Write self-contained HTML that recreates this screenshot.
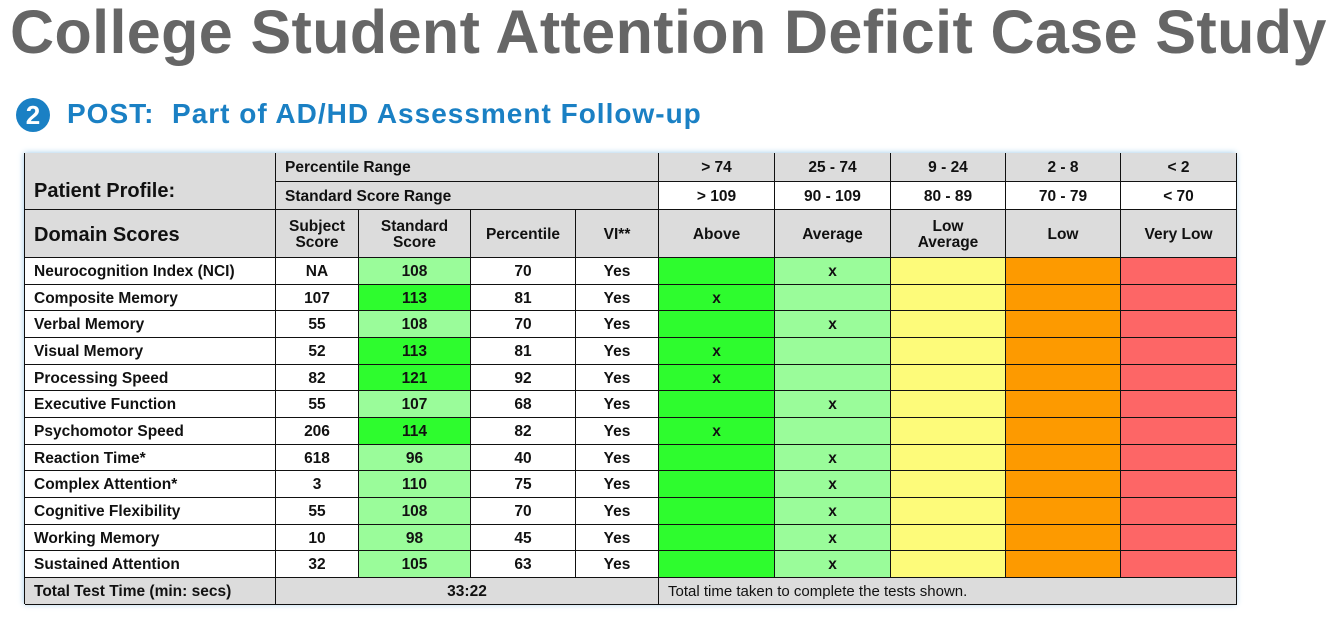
<!DOCTYPE html>
<html><head><meta charset="utf-8">
<style>
body{margin:0;width:1342px;height:623px;background:#fff;position:relative;overflow:hidden;font-family:"Liberation Sans",sans-serif}
#title{position:absolute;left:10px;top:-3px;font-size:61px;font-weight:bold;color:#666;white-space:nowrap;letter-spacing:0.4px}
#sub{position:absolute;left:67px;top:98px;font-size:28px;font-weight:bold;color:#1a80c4;white-space:nowrap;letter-spacing:1px}
#circ{position:absolute;left:16px;top:98px;width:34px;height:34px;border-radius:50%;background:#1a80c4;color:#fff;font-weight:bold;font-size:26px;text-align:center;line-height:34px}
#tbl{position:absolute;left:24px;top:153px;width:1212px;height:451px;box-shadow:0 0 6px #9cc8e8;background:#fff;box-sizing:border-box;border-left:1px solid #111;border-top:1px solid #111}
.c{position:absolute;box-sizing:border-box;border-right:1px solid #111;border-bottom:1px solid #111;display:flex;align-items:center;justify-content:center;text-align:center;font-weight:bold;font-size:15.5px;color:#111;line-height:16px;padding-top:2px}
.l{justify-content:flex-start;padding-left:9px}
</style></head><body>
<div id="title">College Student Attention Deficit Case Study</div>
<div id="circ">2</div>
<div id="sub">POST:&nbsp; Part of AD/HD Assessment Follow-up</div>
<div id="tbl"></div>
<script>
const domains=["Neurocognition  Index (NCI)","Composite Memory","Verbal Memory","Visual Memory","Processing Speed","Executive Function","Psychomotor Speed","Reaction Time*","Complex Attention*","Cognitive Flexibility","Working Memory","Sustained Attention"];
const subjectScores=["NA","107","55","52","82","55","206","618","3","55","10","32"];
const standardScores=[108,113,108,113,121,107,114,96,110,108,98,105];
const percentiles=[70,81,70,81,92,68,82,40,75,70,45,63];
const vi=["Yes","Yes","Yes","Yes","Yes","Yes","Yes","Yes","Yes","Yes","Yes","Yes"];
const category=[1,0,1,0,0,1,0,1,1,1,1,1];
const bandNames=["Above","Average","Low<br>Average","Low","Very Low"];
const pctRanges=["> 74","25 - 74","9 - 24","2 - 8","< 2"];
const ssRanges=["> 109","90 - 109","80 - 89","70 - 79","< 70"];
const totalTime="33:22";

const T=document.getElementById('tbl');
const X=[-1,250,333,445,550,633,749,865,980,1095,1211];
const bandCol=["#2efc2e","#9afc9a","#fdfb7a","#fd9a00","#fd6666"];
function cell(x0,x1,y0,y1,txt,bg,cls,name){
  const d=document.createElement('div');
  d.className='c'+(cls?' '+cls:'');
  d.style.left=(X[x0]+1)+'px';d.style.width=(X[x1]-X[x0])+'px';
  d.style.top=(y0-1)+'px';d.style.height=(y1-y0)+'px';
  d.style.background=bg;
  d.innerHTML=txt;
  
  
  T.appendChild(d);return d;
}
const G="#dcdcdc";
let a=cell(0,1,0,57,"Patient Profile:",G,"l","patient-profile-header");a.style.fontSize="20px";a.style.paddingTop="20px";
cell(1,5,0,29,"Percentile Range",G,"l","percentile-range-label");
cell(1,5,29,57,"Standard Score Range",G,"l","standard-score-range-label");
for(let i=0;i<5;i++){
  cell(5+i,6+i,0,29,pctRanges[i],G,"","percentile-range-"+i);
  cell(5+i,6+i,29,57,ssRanges[i],"#fff","","standard-score-range-"+i);
}
a=cell(0,1,57,105,"Domain Scores",G,"l","domain-scores-header");a.style.fontSize="20px";
["Subject<br>Score","Standard<br>Score","Percentile","VI**"].forEach((t,i)=>cell(1+i,2+i,57,105,t,G,"","column-header-"+i));
bandNames.forEach((t,i)=>cell(5+i,6+i,57,105,t,G,"","band-header-"+i));
const top0=105,rh=(425-105)/12;
domains.forEach((dn,r)=>{
  const y0=Math.round(top0+r*rh),y1=Math.round(top0+(r+1)*rh);
  cell(0,1,y0,y1,dn,"#fff","l","domain-name");
  cell(1,2,y0,y1,subjectScores[r],"#fff","","subject-score");
  cell(2,3,y0,y1,standardScores[r],bandCol[category[r]],"","standard-score");
  cell(3,4,y0,y1,percentiles[r],"#fff","","percentile");
  cell(4,5,y0,y1,vi[r],"#fff","","vi-value");
  for(let b=0;b<5;b++){
    cell(5+b,6+b,y0,y1,b===category[r]?"x":"",bandCol[b],"","band-cell");
  }
});
cell(0,1,425,452,"Total Test Time (min: secs)",G,"l","total-time-label");
cell(1,5,425,452,totalTime,G,"","total-time-value");
a=cell(5,10,425,452,"Total time taken to complete the tests shown.",G,"l","total-time-note");a.style.fontWeight="normal";a.style.fontSize="15px";
</script>
</body></html>
